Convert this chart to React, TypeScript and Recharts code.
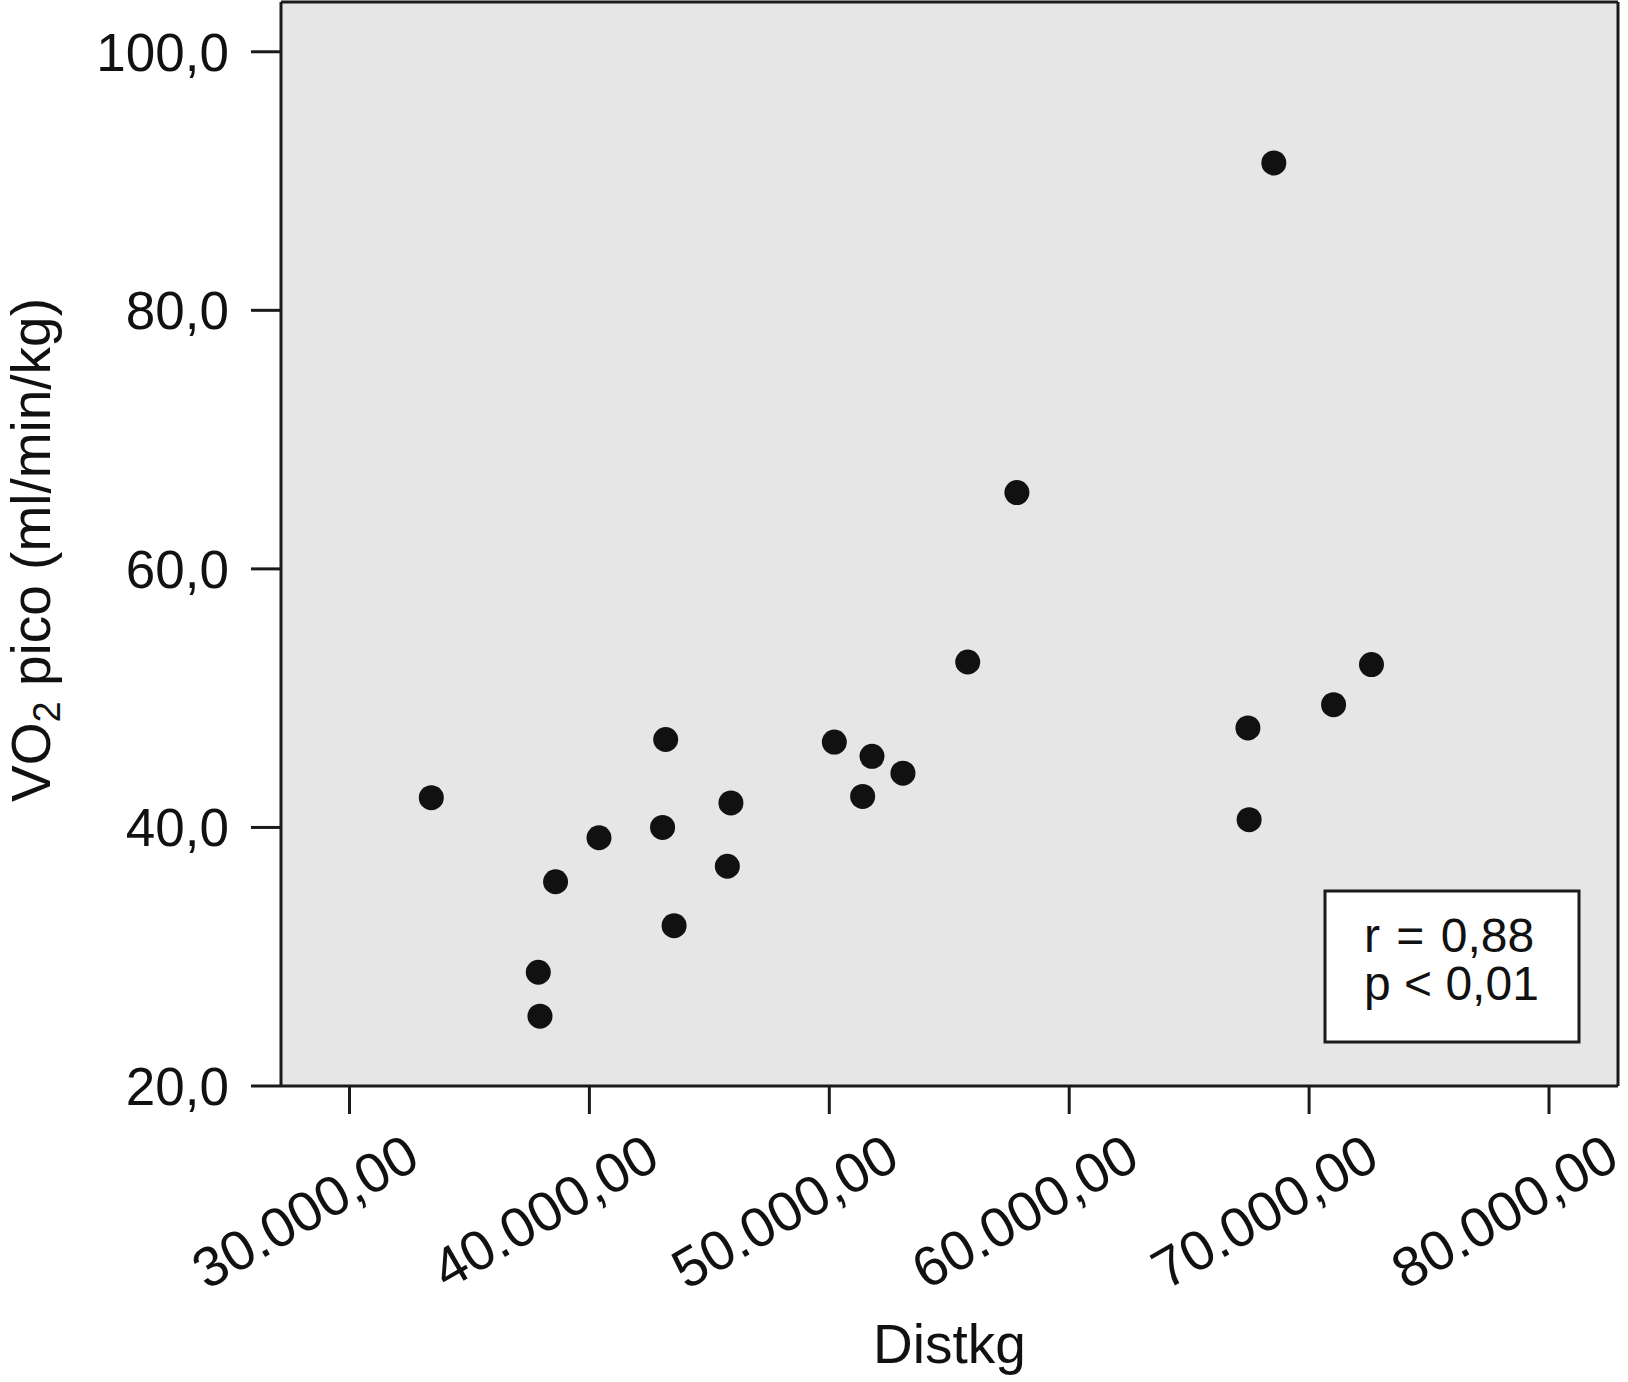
import React from "react";
import { ScatterChart, Scatter, XAxis, YAxis, CartesianGrid, ReferenceLine, Customized } from "recharts";

const distkg = [33410, 37870, 37940, 38590, 40400, 43050, 43180, 43530, 45750, 45900, 50210, 51390, 51780, 53070, 55770, 57820, 67450, 67500, 68530, 71020, 72600];
const vo2Pico = [42.3, 28.8, 25.4, 35.8, 39.2, 40.0, 46.8, 32.4, 37.0, 41.9, 46.6, 42.4, 45.5, 44.2, 52.8, 65.9, 47.7, 40.6, 91.4, 49.5, 52.6];

const xTicks = [30000, 40000, 50000, 60000, 70000, 80000];
const yTicks = [20, 40, 60, 80, 100];

const rText = "r = 0,88";
const pText = "p < 0,01";

const X_MIN = 27145;
const X_MAX = 82876;
const Y_MIN = 20;
const Y_MAX = 103.85;

const FONT = "'Liberation Sans', Arial, Helvetica, sans-serif";
const INK = "#1a1a1a";

const data = distkg.map((d, i) => ({ distkg: d, vo2: vo2Pico[i] }));

// 30000 -> "30.000,00"
const fmtX = (v: number) => {
    const s = String(Math.round(v));
    return s.replace(/\B(?=(\d{3})+(?!\d))/g, ".") + ",00";
};
const fmtY = (v: number) => v.toFixed(1).replace(".", ",");

const XTick = (props: any) => {
    const { x, y, payload } = props;
    const ax = x + 73;
    const ay = y + 50;
    return (
        <text x={ax} y={ay} textAnchor="end" fontSize={56} fontFamily={FONT} fill="#111"
            transform={`rotate(-30 ${ax} ${ay})`}>
            {fmtX(payload.value)}
        </text>
    );
};

const YTitle = (props: any) => {
    const cx = 50;
    const cy = 550;
    return (
        <text x={cx} y={cy} textAnchor="middle" fontSize={55} fontFamily={FONT} fill="#111"
            transform={`rotate(-90 ${cx} ${cy})`}>
            VO<tspan fontSize={38} dy={10}>2</tspan><tspan dy={-10}> pico (ml/min/kg)</tspan>
        </text>
    );
};

const StatsBox = () => (
    <g>
        <rect x={1325} y={891} width={254} height={151} fill="#fff" stroke={INK} strokeWidth={3} />
        <text x={1364} y={952} fontSize={48} wordSpacing={3} fontFamily={FONT} fill="#111">{rText}</text>
        <text x={1364} y={1000} fontSize={48} fontFamily={FONT} fill="#111">{pText}</text>
    </g>
);

const Dot = (props: any) => <circle cx={props.cx} cy={props.cy} r={12.5} fill="#111" />;

const App: React.FC = () => {
    return (
        <div style={{ position: "fixed", left: 0, top: 0, background: "#fff" }}>
            <ScatterChart width={1628} height={1382} margin={{ top: 2, right: 10, bottom: 0, left: 0 }}>
                <CartesianGrid fill="#e6e6e6" stroke="none" horizontal={false} vertical={false} />
                <XAxis type="number" dataKey="distkg" domain={[X_MIN, X_MAX]} allowDataOverflow
                    ticks={xTicks} height={296} tickSize={28} tick={<XTick />}
                    axisLine={{ stroke: INK, strokeWidth: 3 }} tickLine={{ stroke: INK, strokeWidth: 3 }}
                    label={{ value: "Distkg", position: "insideBottom", offset: 19, fontSize: 55, fontFamily: FONT, fill: "#111" }} />
                <YAxis type="number" dataKey="vo2" domain={[Y_MIN, Y_MAX]} allowDataOverflow
                    ticks={yTicks} width={281} tickSize={30} tickMargin={22} tickFormatter={fmtY}
                    tick={{ fontSize: 53, fontFamily: FONT, fill: "#111" }}
                    axisLine={{ stroke: INK, strokeWidth: 3 }} tickLine={{ stroke: INK, strokeWidth: 3 }}
                    label={{ content: (p: any) => <YTitle {...p} /> }} />
                <ReferenceLine x={X_MAX} stroke={INK} strokeWidth={3} ifOverflow="visible" />
                <ReferenceLine y={Y_MAX} stroke={INK} strokeWidth={3} ifOverflow="visible" />
                <Scatter data={data} shape={<Dot />} isAnimationActive={false} />
                <Customized component={StatsBox} />
            </ScatterChart>
        </div>
    );
};

export default App;
